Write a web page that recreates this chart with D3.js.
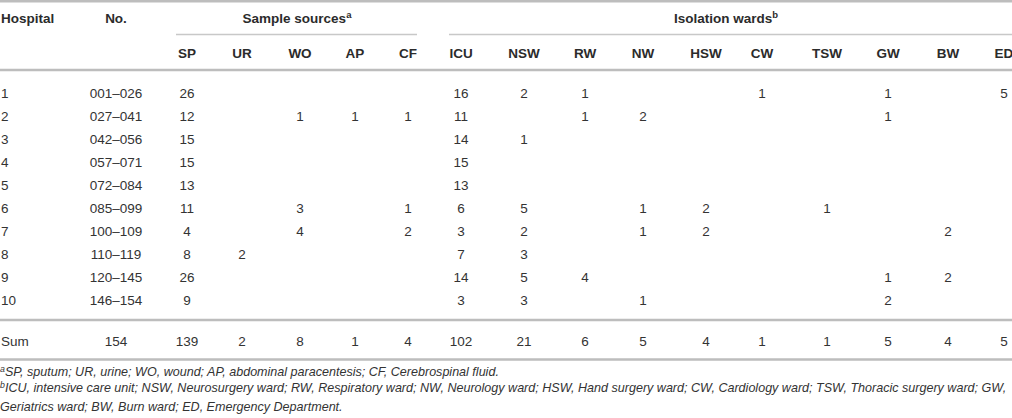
<!DOCTYPE html>
<html>
<head>
<meta charset="utf-8">
<script src="https://cdn.jsdelivr.net/npm/d3@7"></script>
<style>
  html, body { margin: 0; padding: 0; background: #fff; }
  svg { display: block; }
  text { font-family: "Liberation Sans", Arial, Helvetica, sans-serif; }
</style>
</head>
<body>
<svg id="chart" width="1012" height="418"></svg>
<script>
// ---------------- data ----------------
const hospitals = ["1", "2", "3", "4", "5", "6", "7", "8", "9", "10"];
const isolateNos = ["001–026", "027–041", "042–056", "057–071", "072–084",
                    "085–099", "100–109", "110–119", "120–145", "146–154"];

const sourceKeys = ["SP", "UR", "WO", "AP", "CF"];
const wardKeys = ["ICU", "NSW", "RW", "NW", "HSW", "CW", "TSW", "GW", "BW", "ED"];

const SP  = [26, 12, 15, 15, 13, 11, 4, 8, 26, 9];
const UR  = [null, null, null, null, null, null, null, 2, null, null];
const WO  = [null, 1, null, null, null, 3, 4, null, null, null];
const AP  = [null, 1, null, null, null, null, null, null, null, null];
const CF  = [null, 1, null, null, null, 1, 2, null, null, null];

const ICU = [16, 11, 14, 15, 13, 6, 3, 7, 14, 3];
const NSW = [2, null, 1, null, null, 5, 2, 3, 5, 3];
const RW  = [1, 1, null, null, null, null, null, null, 4, null];
const NW  = [null, 2, null, null, null, 1, 1, null, null, 1];
const HSW = [null, null, null, null, null, 2, 2, null, null, null];
const CW  = [1, null, null, null, null, null, null, null, null, null];
const TSW = [null, null, null, null, null, 1, null, null, null, null];
const GW  = [1, 1, null, null, null, null, null, null, 1, 2];
const BW  = [null, null, null, null, null, null, 2, null, 2, null];
const ED  = [5, null, null, null, null, null, null, null, null, null];

const sumLabel = "Sum";
const sumTotal = 154;
const sums = [139, 2, 8, 1, 4, 102, 21, 6, 5, 4, 1, 1, 5, 4, 5];

const groupHeaders = [
  { label: "Sample sources", sup: "a", keys: sourceKeys },
  { label: "Isolation wards", sup: "b", keys: wardKeys }
];

const footA = "SP, sputum; UR, urine; WO, wound; AP, abdominal paracentesis; CF, Cerebrospinal fluid.";
const footB1 = "ICU, intensive care unit; NSW, Neurosurgery ward; RW, Respiratory ward; NW, Neurology ward; HSW, Hand surgery ward; CW, Cardiology ward; TSW, Thoracic surgery ward; GW,";
const footB2 = "Geriatrics ward; BW, Burn ward; ED, Emergency Department.";

// ---------------- table built from arrays ----------------
const seriesByKey = { SP, UR, WO, AP, CF, ICU, NSW, RW, NW, HSW, CW, TSW, GW, BW, ED };
const valueKeys = sourceKeys.concat(wardKeys);

// ---------------- layout ----------------
const svg = d3.select("#chart");
const textColor = "#333333";
const headColor = "#2b2b2b";
const ruleColor = "#bdbdbd";

const colX = d3.scaleOrdinal()
  .domain(["No."].concat(valueKeys))
  .range([116, 187, 242, 300, 355, 408, 461, 524, 585, 643, 706, 762, 827, 888, 948, 1004]);

const rowY = d3.scalePoint()
  .domain(hospitals)
  .range([93, 300]);

const yHead1 = 18, yHead2 = 53, ySum = 341;
const fs = 13.5;

// rules
function hline(x1, x2, y, w, c) {
  svg.append("line").attr("x1", x1).attr("x2", x2).attr("y1", y).attr("y2", y)
    .attr("stroke", c || ruleColor).attr("stroke-width", w);
}
hline(0, 1012, 1.2, 2.4);
hline(0, 1012, 70, 2.4);
hline(0, 1012, 320, 2.4);
hline(0, 1012, 359.5, 2.4);

// group header underlines
const groupSpan = [[176, 417], [449, 1012]];
groupHeaders.forEach((g, i) => {
  hline(groupSpan[i][0], groupSpan[i][1], 34.5, 1.6, "#c8c8c8");
  const cx = (colX(g.keys[0]) + colX(g.keys[g.keys.length - 1])) / 2 + (i === 0 ? -11 : 0);
  const t = svg.append("text")
    .attr("x", i === 0 ? 297 : 726).attr("y", yHead1)
    .attr("dy", "0.35em")
    .attr("text-anchor", "middle")
    .attr("font-weight", "bold")
    .attr("font-size", fs)
    .attr("fill", headColor);
  t.append("tspan").text(g.label);
  t.append("tspan").attr("font-size", 9.5).attr("dy", "-0.5em").text(g.sup);
});

// top-level headers
svg.append("text").attr("x", 1).attr("y", yHead1).attr("dy", "0.35em")
  .attr("font-weight", "bold").attr("font-size", fs).attr("fill", headColor).text("Hospital");
svg.append("text").attr("x", colX("No.")).attr("y", yHead1).attr("dy", "0.35em")
  .attr("text-anchor", "middle")
  .attr("font-weight", "bold").attr("font-size", fs).attr("fill", headColor).text("No.");

// sub headers
svg.selectAll("text.sub").data(valueKeys).enter().append("text")
  .attr("class", "sub")
  .attr("x", d => colX(d)).attr("y", yHead2).attr("dy", "0.35em")
  .attr("text-anchor", "middle")
  .attr("font-weight", "bold").attr("font-size", fs).attr("fill", headColor)
  .text(d => d);

// body rows
const rows = svg.selectAll("g.row").data(hospitals).enter().append("g")
  .attr("class", "row")
  .attr("transform", d => `translate(0,${rowY(d)})`);

rows.append("text").attr("x", 1).attr("dy", "0.35em")
  .attr("font-size", fs).attr("fill", textColor).text(d => d);

rows.append("text").attr("x", colX("No.")).attr("dy", "0.35em")
  .attr("text-anchor", "middle")
  .attr("font-size", fs).attr("fill", textColor).text((d, i) => isolateNos[i]);

rows.each(function (h, i) {
  const cells = valueKeys
    .map(k => ({ k, v: seriesByKey[k][i] }))
    .filter(c => c.v !== null);
  d3.select(this).selectAll("text.cell").data(cells).enter().append("text")
    .attr("class", "cell")
    .attr("x", c => colX(c.k)).attr("dy", "0.35em")
    .attr("text-anchor", "middle")
    .attr("font-size", fs).attr("fill", textColor)
    .text(c => c.v);
});

// sum row
const sumG = svg.append("g").attr("transform", `translate(0,${ySum})`);
sumG.append("text").attr("x", 1).attr("dy", "0.35em")
  .attr("font-size", fs).attr("fill", textColor).text(sumLabel);
sumG.append("text").attr("x", colX("No.")).attr("dy", "0.35em")
  .attr("text-anchor", "middle").attr("font-size", fs).attr("fill", textColor).text(sumTotal);
sumG.selectAll("text.cell").data(valueKeys).enter().append("text")
  .attr("class", "cell")
  .attr("x", d => colX(d)).attr("dy", "0.35em")
  .attr("text-anchor", "middle").attr("font-size", fs).attr("fill", textColor)
  .text((d, i) => sums[i]);

// footnotes
const ffs = 12;
function foot(y, sup, txt) {
  const t = svg.append("text").attr("x", 0).attr("y", y).attr("dy", "0.35em")
    .attr("font-size", ffs).attr("font-style", "italic").attr("fill", textColor);
  if (sup) t.append("tspan").attr("font-size", 8.5).attr("dy", "-0.35em").text(sup);
  t.append("tspan").attr("dy", sup ? "0.35em" : null).text(txt);
  return t;
}
const fb = foot(391, "b", footB1);
// fit second footnote line to the page width
const w = fb.node().getComputedTextLength();
const scale = 1008 / w;
const ffs2 = ffs * scale;
svg.selectAll("*").remove === undefined;
fb.remove();
function foot2(y, sup, txt) {
  const t = svg.append("text").attr("x", 0).attr("y", y).attr("dy", "0.35em")
    .attr("font-size", ffs2).attr("font-style", "italic").attr("fill", textColor);
  if (sup) t.append("tspan").attr("font-size", ffs2 * 0.7).attr("dy", "-0.35em").text(sup);
  t.append("tspan").attr("dy", sup ? "0.35em" : null).text(txt);
  return t;
}
foot2(375, "a", footA);
foot2(391, "b", footB1);
foot2(407, null, footB2);
</script>
</body>
</html>
